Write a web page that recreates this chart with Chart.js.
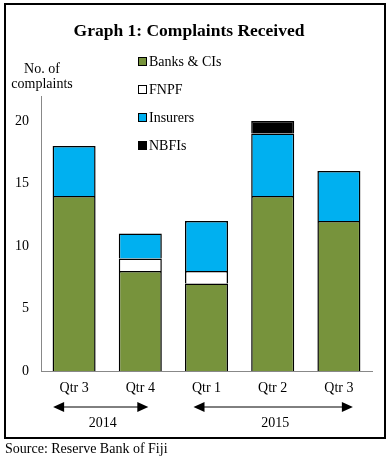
<!DOCTYPE html>
<html>
<head>
<meta charset="utf-8">
<script src="https://cdn.jsdelivr.net/npm/chart.js@4.4.0/dist/chart.umd.min.js"></script>
<style>
  html, body { margin: 0; padding: 0; background: #fff; }
</style>
</head>
<body>
<canvas id="main-chart"></canvas>
<script>
// data
const quarters = ['Qtr 3', 'Qtr 4', 'Qtr 1', 'Qtr 2', 'Qtr 3'];
const years = ['2014', '2015'];
const yearFirst = [0, 2];   // first quarter index of each year
const yearLast = [1, 4];    // last quarter index of each year
const banks = [14, 8, 7, 14, 12];
const fnpf = [null, 1, 1, null, null];
const insurers = [4, 2, 4, 5, 4];
const nbfis = [null, null, null, 1, null];
const yTicks = [0, 5, 10, 15, 20];

const SERIF = "'Liberation Serif', 'Times New Roman', serif";

const decorations = {
  id: 'decorations',
  afterDraw(chart) {
    const ctx = chart.ctx;
    const xs = chart.scales.x;
    ctx.save();

    // frame
    ctx.strokeStyle = '#000';
    ctx.lineWidth = 2;
    ctx.strokeRect(5, 4, 380, 434);

    // title
    ctx.fillStyle = '#000';
    ctx.textAlign = 'center';
    ctx.textBaseline = 'middle';
    ctx.font = 'bold 17.5px ' + SERIF;
    ctx.fillText('Graph 1: Complaints Received', 189, 31);

    // y axis title
    ctx.font = '14px ' + SERIF;
    ctx.fillText('No. of', 42, 69);
    ctx.fillText('complaints', 42, 84);

    // legend
    ctx.textAlign = 'left';
    chart.data.datasets.forEach((ds, i) => {
      const y = 62 + i * 28;
      ctx.fillStyle = ds.backgroundColor;
      ctx.fillRect(138.5, y - 4.5, 8, 8);
      ctx.lineWidth = 1;
      ctx.strokeStyle = '#000';
      ctx.strokeRect(138.5, y - 4.5, 8, 8);
      ctx.fillStyle = '#000';
      ctx.fillText(ds.label, 149, y);
    });

    // year arrows
    const arrowY = 407;
    const spans = [
      [xs.getPixelForValue(yearFirst[0]) - 21, xs.getPixelForValue(yearLast[0]) + 8],
      [xs.getPixelForValue(yearFirst[1]) - 13, xs.getPixelForValue(yearLast[1]) + 14]
    ];
    spans.forEach(([a, b], i) => {
      ctx.strokeStyle = '#000';
      ctx.lineWidth = 1;
      ctx.beginPath();
      ctx.moveTo(a + 8, arrowY);
      ctx.lineTo(b - 8, arrowY);
      ctx.stroke();
      ctx.fillStyle = '#000';
      ctx.beginPath();
      ctx.moveTo(a, arrowY);
      ctx.lineTo(a + 11, arrowY - 5);
      ctx.lineTo(a + 11, arrowY + 5);
      ctx.closePath();
      ctx.fill();
      ctx.beginPath();
      ctx.moveTo(b, arrowY);
      ctx.lineTo(b - 11, arrowY - 5);
      ctx.lineTo(b - 11, arrowY + 5);
      ctx.closePath();
      ctx.fill();
      ctx.textAlign = 'center';
      ctx.font = '14px ' + SERIF;
      ctx.fillText(years[i], (a + b) / 2 + 2, 423);
    });

    // source
    ctx.textAlign = 'left';
    ctx.font = '14px ' + SERIF;
    ctx.fillText('Source: Reserve Bank of Fiji', 5, 449);

    ctx.restore();
  }
};

document.addEventListener('DOMContentLoaded', () => {
  const canvas1 = document.getElementById('main-chart');
  canvas1.setAttribute('width', '391');
  canvas1.setAttribute('height', '459');

  const barStyle = {
    borderColor: '#000',
    borderWidth: 1.5,
    barPercentage: 0.65,
    categoryPercentage: 1
  };

  new Chart(canvas1, {
    type: 'bar',
    data: {
      labels: quarters,
      datasets: [
        Object.assign({ label: 'Banks & CIs', data: banks, backgroundColor: '#77933C' }, barStyle),
        Object.assign({ label: 'FNPF', data: fnpf, backgroundColor: '#FFFFFF' }, barStyle),
        Object.assign({ label: 'Insurers', data: insurers, backgroundColor: '#00B0F0' }, barStyle),
        Object.assign({ label: 'NBFIs', data: nbfis, backgroundColor: '#000000' }, barStyle)
      ]
    },
    options: {
      responsive: false,
      animation: false,
      layout: { padding: { top: 96, right: 19, left: 0, bottom: 0 } },
      plugins: {
        legend: { display: false },
        title: { display: false },
        tooltip: { enabled: false }
      },
      scales: {
        x: {
          stacked: true,
          grid: { display: false, drawTicks: false },
          border: { display: true, color: '#888', width: 1 },
          ticks: { color: '#000', padding: 9, font: { family: SERIF, size: 14 } },
          afterFit(scale) { scale.height = 88; }
        },
        y: {
          stacked: true,
          min: 0,
          max: 22,
          afterBuildTicks(scale) { scale.ticks = yTicks.map(v => ({ value: v })); },
          grid: { display: false, drawTicks: false },
          border: { display: true, color: '#888', width: 1 },
          ticks: { color: '#000', padding: 12, font: { family: SERIF, size: 14 } },
          afterFit(scale) { scale.width = 41; }
        }
      }
    },
    plugins: [decorations]
  });
});
</script>
</body>
</html>
